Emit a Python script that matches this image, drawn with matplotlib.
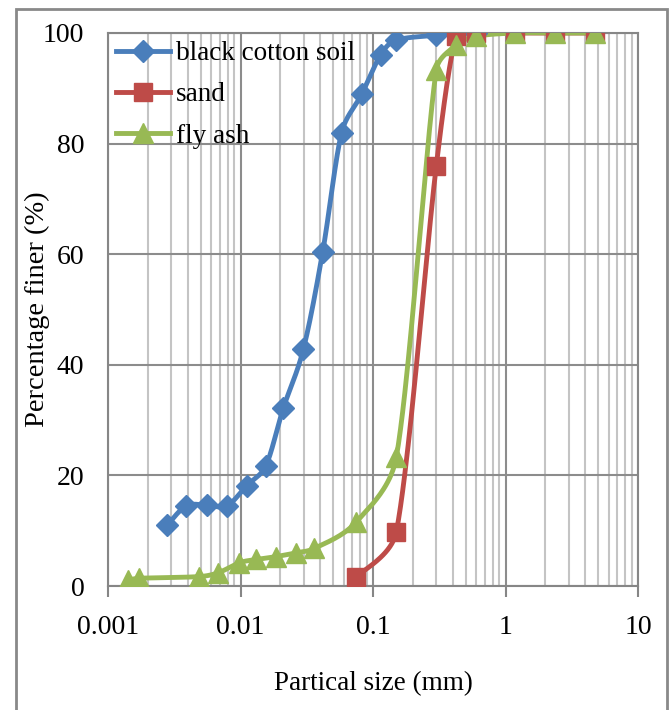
import numpy as np
import matplotlib
matplotlib.use('Agg')
import matplotlib.pyplot as plt
from matplotlib.patches import Rectangle

plt.rcParams['font.family'] = ['Liberation Serif', 'DejaVu Serif']

# black cotton soil
bcs_size = [0.0028, 0.0039, 0.0056, 0.0079, 0.0111, 0.0155, 0.021, 0.0298,
            0.0417, 0.058, 0.082, 0.114, 0.15, 0.3, 0.425, 0.6]
bcs_finer = [11.0, 14.5, 14.6, 14.5, 18.1, 21.7, 32.1, 42.8,
             60.4, 82.0, 88.9, 96.0, 98.7, 99.6, 100, 100]

# sand
sand_size = [0.075, 0.15, 0.3, 0.425, 0.6, 1.18, 2.36, 4.75]
sand_finer = [1.6, 9.8, 75.9, 99.5, 100, 100, 100, 100]

# fly ash
ash_size = [0.00142, 0.00172, 0.00486, 0.0068, 0.0098, 0.0132, 0.0184, 0.0261,
            0.0361, 0.075, 0.15, 0.3, 0.425, 0.6, 1.18, 2.36, 4.75]
ash_finer = [1.1, 1.4, 1.7, 2.4, 4.2, 4.8, 5.3, 6.0,
             6.8, 11.6, 23.3, 93.3, 97.8, 99.4, 100, 100, 100]

x_ticks = [0.001, 0.01, 0.1, 1, 10]
x_labels = ['0.001', '0.01', '0.1', '1', '10']
y_ticks = [0, 20, 40, 60, 80, 100]


def smooth(xs, ys, n=40, cap=0.4):
    # bezier smoothing like excel: tangent (next - prev)/6, worked in screen units,
    # control arms capped to a share of the segment so short steps don't overshoot
    sx, sy = 132.5, 5.53
    P = np.column_stack([np.log10(np.asarray(xs, float)) * sx, np.asarray(ys, float) * sy])
    Q = np.vstack([P[0], P, P[-1]])
    tan = (Q[2:] - Q[:-2]) / 6
    t = np.linspace(0, 1, n)[:, None]
    out = []
    for i in range(len(P) - 1):
        a, b = P[i], P[i + 1]
        L = np.linalg.norm(b - a)
        c1, c2 = tan[i].copy(), tan[i + 1].copy()
        for c in (c1, c2):
            m = np.linalg.norm(c)
            if m > cap * L:
                c *= cap * L / m
        b1, b2 = a + c1, b - c2
        seg = (1 - t) ** 3 * a + 3 * (1 - t) ** 2 * t * b1 + 3 * (1 - t) * t ** 2 * b2 + t ** 3 * b
        out.append(seg)
    out = np.vstack(out)
    return 10 ** (out[:, 0] / sx), out[:, 1] / sy


fig = plt.figure(figsize=(6.72, 7.10), dpi=100)
ax = fig.add_axes([108 / 672, 1 - 586 / 710, 530 / 672, 553 / 710])

series = [
    (bcs_size, bcs_finer, '#4A7EBB', 'D', 11.5, 'black cotton soil'),
    (sand_size, sand_finer, '#BE4B48', 's', 12.5, 'sand'),
    (ash_size, ash_finer, '#98B954', '^', 14, 'fly ash'),
]
for xs, ys, col, mk, ms, lab in series:
    sx, sy = smooth(xs, ys)
    ax.plot(sx, sy, color=col, lw=3.5, solid_capstyle='round', zorder=3)
    ax.plot(xs, ys, ls='none', marker=mk, ms=ms, color=col, zorder=4)
    ax.plot([], [], color=col, lw=3.5, marker=mk, ms=ms, label=lab)

ax.set_xscale('log')
ax.set_xlim(0.001, 10)
ax.set_ylim(0, 100)
ax.set_xticks(x_ticks)
ax.set_xticklabels(x_labels)
ax.set_yticks(y_ticks)
ax.tick_params(axis='x', which='major', length=8, width=1.5, color='#868686',
               labelsize=20, pad=13)
ax.tick_params(axis='x', which='minor', length=0)
ax.tick_params(axis='y', length=0, labelsize=20, pad=17)
ax.grid(True, which='major', axis='both', color='#8c8c8c', lw=1.5)
ax.grid(True, which='minor', axis='x', color='#c4c4c4', lw=1.5)
ax.set_axisbelow(True)
for s in ax.spines.values():
    s.set_color('#868686')
    s.set_linewidth(1.5)

ax.set_xlabel('Partical size (mm)', fontsize=19.5, labelpad=22)
ax.set_ylabel('Percentage finer (%)', fontsize=20.5)
ax.yaxis.set_label_coords(-0.11, 0.5)

ax.legend(loc='upper left', bbox_to_anchor=(0, 1), frameon=False, fontsize=19.5,
          handlelength=2.0, handletextpad=0.2, labelspacing=0.6,
          borderaxespad=0.1, borderpad=0.2)

fig.patches.append(Rectangle((16 / 672, -0.05), 651 / 672, 1.05 - 9 / 710,
                             transform=fig.transFigure, fill=False,
                             ec='#898989', lw=2))

fig.savefig('out.png', dpi=100)
